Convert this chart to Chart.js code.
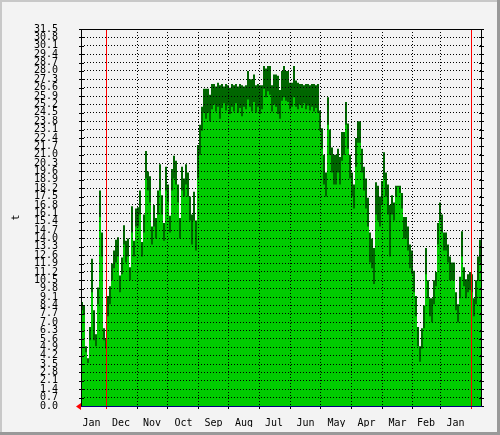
<!DOCTYPE html>
<html>
<head>
<meta charset="utf-8">
<script src="https://cdn.jsdelivr.net/npm/chart.js@4/dist/chart.umd.min.js"></script>
<style>
  html, body { margin: 0; padding: 0; background: #f3f3f3; }
  canvas { display: block; }
</style>
</head>
<body>
<canvas id="rrdChart" width="500" height="435"></canvas>
<script>
// samples are 2 days apart, starting at the left edge of the graph
const sampleStep = 2;

// max values (dark green)
const maxValues = [
    8.7, 8.4, 5.0, 4.0, 6.6, 12.3, 8.0, 6.0, 9.9, 18.0,
    14.5, 6.5, 5.6, 9.2, 10.0, 11.9, 13.0, 13.9, 14.1, 10.9,
    12.4, 15.1, 13.8, 14.0, 11.6, 16.7, 13.8, 16.5, 16.6, 18.0,
    13.7, 16.0, 21.3, 19.6, 19.2, 15.0, 16.8, 15.7, 18.0, 20.2,
    17.6, 15.3, 20.0, 18.5, 15.9, 19.8, 20.9, 20.5, 18.5, 15.7,
    20.0, 19.0, 20.2, 19.5, 17.5, 16.0, 17.9, 15.5, 21.8, 23.5,
    25.0, 26.5, 26.5, 26.5, 26.0, 26.9, 26.9, 26.7, 27.0, 26.8,
    26.9, 26.7, 26.9, 26.8, 26.6, 26.9, 26.8, 26.9, 26.7, 26.9,
    26.8, 26.7, 26.8, 28.0, 27.3, 27.3, 27.7, 26.8, 26.9, 26.8,
    26.8, 28.4, 28.2, 28.4, 28.4, 26.8, 27.7, 27.7, 27.6, 26.4,
    28.0, 28.4, 28.0, 28.0, 27.0, 27.0, 28.4, 27.2, 27.0, 26.9,
    26.9, 26.8, 26.9, 26.9, 26.8, 26.9, 26.9, 26.8, 26.9, 24.7,
    23.2, 21.0, 19.5, 25.8, 23.1, 21.6, 21.0, 21.0, 21.5, 20.8,
    22.9, 22.9, 25.4, 23.6, 21.0, 19.5, 18.5, 22.4, 23.8, 23.8,
    21.5, 20.0, 19.0, 17.4, 14.5, 14.0, 13.2, 18.7, 18.4, 17.5,
    18.8, 21.2, 19.5, 18.5, 16.8, 17.6, 17.0, 18.4, 18.4, 18.4,
    17.8, 15.8, 15.8, 15.0, 13.5, 13.0, 11.3, 9.2, 6.6, 5.0,
    6.5, 8.4, 13.2, 10.5, 9.0, 9.0, 10.5, 11.2, 15.3, 17.0,
    16.0, 14.5, 14.5, 13.5, 12.5, 12.0, 12.0, 9.5, 8.5, 10.8,
    14.6, 11.6, 10.6, 11.0, 11.2, 11.0, 9.0, 10.5, 12.5, 13.9,
    12.9
];

// average values (light green)
const avgValues = [
    8.0, 7.6, 4.5, 3.6, 5.5, 9.5, 5.5, 5.0, 8.5, 15.8,
    12.5, 5.5, 4.8, 7.5, 8.5, 10.5, 11.5, 12.0, 12.5, 9.5,
    11.0, 13.5, 12.0, 12.5, 10.5, 14.5, 12.5, 15.0, 15.0, 16.0,
    12.5, 14.5, 19.0, 18.0, 17.0, 13.5, 15.0, 14.0, 16.0, 18.0,
    16.0, 13.8, 18.0, 17.0, 14.5, 18.0, 19.0, 18.5, 17.0, 14.0,
    18.0, 17.5, 18.5, 17.5, 15.5, 13.5, 15.5, 13.0, 19.0, 21.0,
    23.0, 24.5, 24.0, 24.5, 23.8, 24.8, 25.2, 24.6, 25.0, 24.0,
    24.9, 25.3, 24.7, 25.1, 24.4, 25.0, 24.6, 25.3, 24.5, 24.9,
    24.2, 25.0, 24.8, 25.6, 25.0, 24.6, 25.4, 24.5, 25.0, 24.4,
    24.8, 26.5, 25.8, 26.3, 26.0, 24.6, 25.2, 25.0, 24.4, 24.0,
    25.5, 25.8, 25.5, 25.4, 24.8, 25.0, 25.8, 25.0, 24.8, 25.2,
    24.9, 25.3, 24.8, 25.1, 24.7, 25.0, 24.6, 24.9, 24.5, 23.0,
    21.5, 18.5, 17.5, 23.5, 21.0, 19.5, 18.5, 18.5, 19.5, 18.5,
    20.5, 21.0, 23.5, 21.5, 19.0, 17.5, 16.5, 20.0, 22.0, 22.0,
    19.5, 18.0, 16.5, 15.0, 12.0, 11.5, 10.2, 16.0, 15.5, 15.0,
    16.8, 19.0, 17.5, 16.0, 12.5, 16.0, 15.5, 17.5, 18.3, 17.8,
    16.5, 14.0, 14.0, 13.0, 11.5, 11.0, 9.5, 7.5, 5.0, 3.7,
    4.8, 6.5, 11.0, 9.0, 7.5, 7.0, 8.5, 10.0, 13.5, 15.5,
    14.5, 13.0, 13.0, 12.0, 10.5, 10.5, 10.5, 8.0, 7.0, 9.0,
    12.5, 10.0, 9.0, 9.5, 9.7, 9.5, 7.5, 8.5, 10.5, 12.0,
    11.5
];

// x axis: day offsets of month boundaries, label positions and names
const monthBounds = [25, 56, 86, 117, 147, 178, 209, 239, 270, 301, 331, 359, 390];
const monthMids = [10.5, 40, 71, 102.5, 132.5, 163, 193, 224.5, 255.5, 285.5, 316.5, 345, 374.5];
const monthLabels = ["Jan", "Dec", "Nov", "Oct", "Sep", "Aug", "Jul", "Jun", "May", "Apr", "Mar", "Feb", "Jan"];
const yearMarks = [25, 390];

const yTicks = [
    0, 0.7, 1.4, 2.1, 2.8, 3.5, 4.2, 4.9, 5.6, 6.3, 7, 7.7, 8.4, 9.1, 9.8,
    10.5, 11.2, 11.9, 12.6, 13.3, 14, 14.7, 15.4, 16.1, 16.8, 17.5, 18.2, 18.9, 19.6, 20.3,
    21, 21.7, 22.4, 23.1, 23.8, 24.5, 25.2, 25.9, 26.6, 27.3, 28, 28.7, 29.4, 30.1, 30.8, 31.5
];

const monoFont = { family: "'DejaVu Sans Mono', monospace", size: 10 };

const toPoints = arr => arr.map((v, i) => ({ x: i * sampleStep, y: v }));

// frame, tick marks, red rules, arrow
const rrdFrame = {
    id: "rrdFrame",
    beforeDraw(chart) {
        const ctx = chart.ctx;
        const w = chart.width, h = chart.height;
        ctx.save();
        ctx.fillStyle = "#f3f3f3";
        ctx.fillRect(0, 0, w, h);
        ctx.fillStyle = "#c8c8c8";
        ctx.fillRect(0, 0, w, 2);
        ctx.fillRect(0, 0, 2, h);
        ctx.fillStyle = "#999999";
        ctx.fillRect(0, h - 3, w, 3);
        ctx.fillRect(w - 3, 0, 3, h);
        ctx.restore();
    },
    afterDraw(chart) {
        const ctx = chart.ctx;
        const a = chart.chartArea;
        const xs = chart.scales.x;
        const ys = chart.scales.y;
        ctx.save();
        ctx.lineWidth = 1;

        // red rules at year change
        ctx.fillStyle = "#ff0000";
        yearMarks.forEach(v => {
            const px = Math.round(xs.getPixelForValue(v));
            ctx.fillRect(px, Math.round(a.top), 1, Math.round(a.bottom - a.top) + 3);
        });

        // frame
        ctx.strokeStyle = "#000000";
        ctx.beginPath();
        ctx.moveTo(a.left + 0.5, a.bottom);
        ctx.lineTo(a.left + 0.5, a.top + 0.5);
        ctx.lineTo(a.right + 2, a.top + 0.5);
        ctx.moveTo(a.right + 0.5, a.top);
        ctx.lineTo(a.right + 0.5, a.bottom);
        ctx.stroke();

        // y tick marks on both sides
        ys.ticks.forEach(t => {
            const py = Math.round(ys.getPixelForValue(t.value)) + 0.5;
            ctx.beginPath();
            ctx.moveTo(a.left - 2, py);
            ctx.lineTo(a.left + 3, py);
            ctx.moveTo(a.right - 2, py);
            ctx.lineTo(a.right + 3, py);
            ctx.stroke();
        });

        // bottom axis
        ctx.strokeStyle = "#000080";
        ctx.beginPath();
        ctx.moveTo(a.left, a.bottom + 0.5);
        ctx.lineTo(a.right + 1, a.bottom + 0.5);
        ctx.stroke();

        // red arrow at origin
        ctx.fillStyle = "#ff0000";
        ctx.beginPath();
        ctx.moveTo(a.left - 5, a.bottom + 0.5);
        ctx.lineTo(a.left, a.bottom - 3);
        ctx.lineTo(a.left, a.bottom + 4);
        ctx.closePath();
        ctx.fill();
        ctx.restore();
    }
};

new Chart(document.getElementById("rrdChart"), {
    type: "line",
    data: {
        datasets: [
            {
                label: "avg",
                data: toPoints(avgValues),
                backgroundColor: "#00cc00",
                borderWidth: 0,
                pointRadius: 0,
                fill: "origin",
                stepped: true
            },
            {
                label: "max",
                data: toPoints(maxValues),
                backgroundColor: "#006600",
                borderWidth: 0,
                pointRadius: 0,
                fill: "origin",
                stepped: true
            }
        ]
    },
    options: {
        responsive: false,
        animation: false,
        events: [],
        layout: { padding: { left: 0, top: 14, right: 19, bottom: 0 } },
        plugins: { legend: { display: false }, tooltip: { enabled: false } },
        scales: {
            x: {
                type: "linear",
                position: "bottom",
                min: 0,
                max: 400,
                afterBuildTicks: s => { s.ticks = monthBounds.map(v => ({ value: v })); },
                afterFit: s => { s.height = 0; },
                ticks: { display: false },
                grid: {
                    color: "#000000",
                    z: 1,
                    drawTicks: true,
                    tickLength: 3,
                    tickColor: "#000000"
                },
                border: { display: false, dash: [1, 2] }
            },
            xm: {
                type: "linear",
                position: "bottom",
                min: 0,
                max: 400,
                afterBuildTicks: s => { s.ticks = monthMids.map(v => ({ value: v })); },
                afterFit: s => { s.height = 21; },
                ticks: {
                    callback: (v, i) => monthLabels[i],
                    font: monoFont,
                    color: "#000000",
                    autoSkip: false,
                    maxRotation: 0,
                    padding: 11
                },
                grid: { display: false, drawTicks: false },
                border: { display: false }
            },
            y: {
                min: 0,
                max: 31.5,
                afterBuildTicks: s => { s.ticks = yTicks.map(v => ({ value: v })); },
                afterFit: s => { s.width = 81; },
                ticks: {
                    callback: v => v.toFixed(1),
                    font: monoFont,
                    color: "#000000",
                    autoSkip: false,
                    padding: 23
                },
                grid: { color: "#000000", z: 1, drawTicks: false },
                border: { display: false, dash: [1, 2] },
                title: {
                    display: true,
                    text: "t",
                    font: monoFont,
                    color: "#000000",
                    padding: { top: 10, bottom: 0 }
                }
            }
        }
    },
    plugins: [rrdFrame]
});
</script>
</body>
</html>
